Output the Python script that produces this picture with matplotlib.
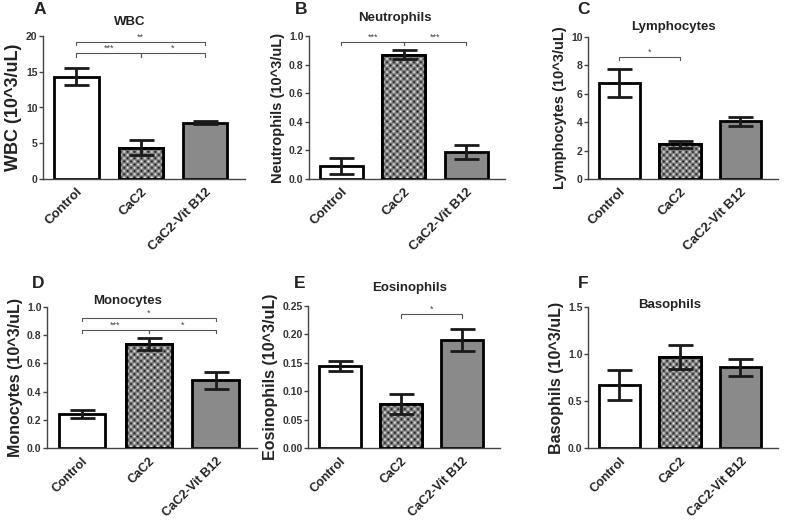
import matplotlib
matplotlib.use("Agg")
import matplotlib.pyplot as plt
import numpy as np

plt.rcParams['font.family'] = ['Liberation Sans', 'DejaVu Sans']

groups = ["Control", "CaC2", "CaC2-Vit B12"]

wbc_mean = [14.3, 4.4, 7.9]
wbc_err = [1.2, 1.0, 0.2]
neu_mean = [0.09, 0.87, 0.19]
neu_err = [0.057, 0.03, 0.05]
lym_mean = [6.75, 2.45, 4.05]
lym_err = [0.97, 0.25, 0.32]
mon_mean = [0.24, 0.74, 0.48]
mon_err = [0.026, 0.042, 0.062]
eos_mean = [0.144, 0.077, 0.19]
eos_err = [0.0085, 0.018, 0.02]
bas_mean = [0.67, 0.97, 0.86]
bas_err = [0.16, 0.13, 0.09]

wbc_ticks = [0, 5, 10, 15, 20]
neu_ticks = [0.0, 0.2, 0.4, 0.6, 0.8, 1.0]
lym_ticks = [0, 2, 4, 6, 8, 10]
mon_ticks = [0.0, 0.2, 0.4, 0.6, 0.8, 1.0]
eos_ticks = [0.00, 0.05, 0.10, 0.15, 0.20, 0.25]
bas_ticks = [0.0, 0.5, 1.0, 1.5]

# significance brackets: (from, to, height, label)
wbc_sig = [(0, 1, 17.6, "***"), (1, 2, 17.6, "*"), (0, 2, 19.2, "**")]
neu_sig = [(0, 1, 0.96, "***"), (1, 2, 0.96, "***")]
lym_sig = [(0, 1, 8.6, "*")]
mon_sig = [(0, 1, 0.84, "***"), (1, 2, 0.84, "*"), (0, 2, 0.925, "*")]
eos_sig = [(1, 2, 0.236, "*")]
bas_sig = []

W, H = 787, 521
fig = plt.figure(figsize=(W / 100, H / 100), dpi=100)

def px_axes(l, r, t, b):
    return fig.add_axes([l / W, 1 - b / H, (r - l) / W, (b - t) / H])

panels = [
    ("A", "WBC", "WBC (10^3/uL)", wbc_mean, wbc_err, wbc_ticks, wbc_sig, (43, 245, 36, 179), "{:g}", 13, 9.5),
    ("B", "Neutrophils", "Neutrophils (10^3/uL)", neu_mean, neu_err, neu_ticks, neu_sig, (309, 505, 36, 179), "{:.1f}", 10.5, 9.5),
    ("C", "Lymphocytes", "Lymphocytes (10^3/uL)", lym_mean, lym_err, lym_ticks, lym_sig, (588, 778, 37, 179), "{:g}", 10.5, 9.5),
    ("D", "Monocytes", "Monocytes (10^3/uL)", mon_mean, mon_err, mon_ticks, mon_sig, (47, 257, 307, 448), "{:.1f}", 11.5, 9),
    ("E", "Eosinophils", "Eosinophils (10^3/uL)", eos_mean, eos_err, eos_ticks, eos_sig, (308, 500, 306, 448), "{:.2f}", 11.5, 9),
    ("F", "Basophils", "Basophils (10^3/uL)", bas_mean, bas_err, bas_ticks, bas_sig, (588, 778, 307, 448), "{:.1f}", 11.5, 9),
]

title_pos = {"A": (130, 22), "B": (395, 18), "C": (673, 27), "D": (128, 301), "E": (410, 288), "F": (670, 305)}
letter_pos = {"A": (40, 10), "B": (301, 10), "C": (583, 10), "D": (38, 283), "E": (300, 283), "F": (583, 283)}

x = list(range(len(groups)))
bw = 0.69
sq = 3.3  # checker square size in pixels
for letter, title, ylabel, mean, err, ticks, sig, box, fmt, ylfs, xfs in panels:
    ax = px_axes(*box)
    ax.set_xlim(-0.52, 2.62)
    ax.set_ylim(ticks[0], ticks[-1])
    bars = ax.bar(x, mean, width=bw, color=["white", "white", "#8a8a8a"],
                  edgecolor="black", linewidth=2, zorder=2)
    # checkerboard texture for the CaC2 bar
    b = bars[1]
    x0, y0 = b.get_x(), b.get_y()
    x1, y1 = x0 + b.get_width(), y0 + b.get_height()
    p0 = ax.transData.transform((x0, y0))
    p1 = ax.transData.transform((x1, y1))
    nx = max(1, int(round((p1[0] - p0[0]) / sq)))
    ny = max(1, int(round((p1[1] - p0[1]) / sq)))
    checker = (np.add.outer(np.arange(ny), np.arange(nx)) % 2).astype(float)
    im = ax.imshow(checker, extent=(x0, x1, y0, y1), aspect="auto", cmap="gray",
                   vmin=0.0, vmax=1.0, interpolation="bilinear", zorder=2.5, origin="lower")
    im.set_clip_path(b)
    ax.bar(x[1], mean[1], width=bw, color="none", edgecolor="black", linewidth=2, zorder=3)
    ax.set_aspect("auto")
    ax.set_xlim(-0.52, 2.62)
    ax.set_ylim(ticks[0], ticks[-1])
    ax.errorbar(x, mean, yerr=err, fmt="none", ecolor="#1a1a1a", elinewidth=2,
                capsize=9, capthick=2, zorder=4)
    ax.set_yticks(ticks)
    ax.set_yticklabels([fmt.format(t) for t in ticks], fontsize=7.5, fontweight="bold", color="#333")
    ax.set_xticks(x)
    ax.set_xticklabels(groups, rotation=45, ha="right", rotation_mode="anchor",
                       fontsize=xfs, fontweight="bold", color="#222")
    ax.tick_params(axis="x", length=0, pad=5)
    ax.tick_params(axis="y", length=3, width=1, pad=1, color="#444")
    for s in ("top", "right"):
        ax.spines[s].set_visible(False)
    for s in ("left", "bottom"):
        ax.spines[s].set_linewidth(1.0)
        ax.spines[s].set_color("#444")
    ax.set_ylabel(ylabel, fontsize=ylfs, fontweight="bold", labelpad=3, color="#222")
    yr = ticks[-1] - ticks[0]
    for i, j, h, lab in sig:
        xi = x[i]
        xj = x[j]
        d = yr * 0.025
        ax.plot([xi, xi, xj, xj], [h - d, h, h, h - d], color="#555", lw=0.8, clip_on=False, zorder=5)
        ax.text((xi + xj) / 2, h, lab, ha="center", va="bottom", fontsize=6.5, color="#444")
    tx, ty = title_pos[letter]
    fig.text(tx / W, 1 - ty / H, title, ha="center", va="center", fontsize=9.5, fontweight="bold", color="#222")
    lx, ly = letter_pos[letter]
    fig.text(lx / W, 1 - ly / H, letter, ha="center", va="center", fontsize=12.5, fontweight="bold", color="#222")

fig.savefig("out.png", dpi=100)
